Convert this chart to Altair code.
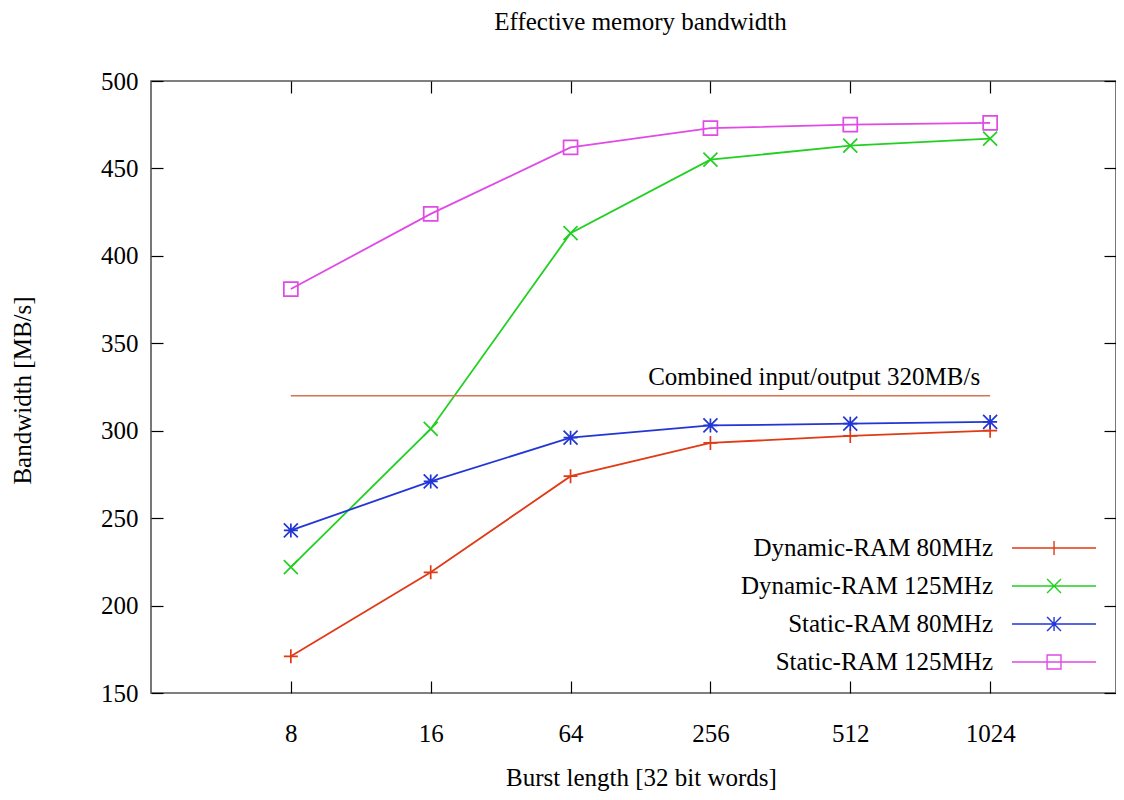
import json
import altair as alt
import pandas as pd

# ---------------- data ----------------
bursts = ["8", "16", "64", "256", "512", "1024"]
series_names = ["Dynamic-RAM 80MHz", "Dynamic-RAM 125MHz", "Static-RAM 80MHz", "Static-RAM 125MHz"]
dram_80 = [171, 219, 274, 293, 297, 300]
dram_125 = [222, 301, 413, 455, 463, 467]
sram_80 = [243, 271, 296, 303, 304, 305]
sram_125 = [381, 424, 462, 473, 475, 476]
ref_value = 320
ref_label = "Combined input/output 320MB/s"
y_ticks = [150, 200, 250, 300, 350, 400, 450, 500]

title_text = "Effective memory bandwidth"
x_title = "Burst length [32 bit words]"
y_title = "Bandwidth [MB/s]"

# ---------------- styles ----------------
FONT = "Liberation Serif"
FS = 25
W, H = 965, 612
colors = ["#e03a16", "#22d022", "#2236d6", "#e04ae6"]
REF_COLOR = "#d9704f"
marker_paths = [
    "M-1,0L1,0M0,-1L0,1",
    "M-1,-1L1,1M-1,1L1,-1",
    "M-1,0L1,0M0,-1L0,1M-1,-1L1,1M-1,1L1,-1",
    "M-1,-1L1,-1L1,1L-1,1Z",
]


def legend_path(kind, cx=6.17, half=3.5, m=0.58):
    a, b = round(cx - half, 3), round(cx + half, 3)
    l, r = round(cx - m, 3), round(cx + m, 3)
    line = f"M{a},0L{b},0"
    if kind == "plus":
        return line + f"M{cx},-{m}L{cx},{m}"
    if kind == "x":
        return line + f"M{l},-{m}L{r},{m}M{l},{m}L{r},-{m}"
    if kind == "star":
        return line + f"M{cx},-{m}L{cx},{m}M{l},-{m}L{r},{m}M{l},{m}L{r},-{m}"
    return line + f"M{l},-{m}L{r},-{m}L{r},{m}L{l},{m}Z"


legend_paths = [legend_path(k) for k in ["plus", "x", "star", "square"]]

rows = []
for name, vals in zip(series_names, [dram_80, dram_125, sram_80, sram_125]):
    for i, (b, v) in enumerate(zip(bursts, vals)):
        rows.append({"series": name, "pos": i + 1, "burst": b, "bandwidth": v})
df = pd.DataFrame(rows)
ref_df = pd.DataFrame([{"pos_start": 1, "pos_end": len(bursts), "value": ref_value, "label": ref_label}])

positions = list(range(1, len(bursts) + 1))
label_expr = json.dumps(bursts) + "[datum.value - 1]"

xscale = alt.Scale(domain=[0, 6.9], nice=False, zero=False)
yscale = alt.Scale(domain=[150, 500], nice=False, zero=False)


def cscale():
    return alt.Scale(domain=series_names, range=colors)


tick_style = dict(labels=False, domain=False, grid=False, ticks=True, tickSize=12,
                  tickColor="black", tickWidth=1.2, title=None, minExtent=0, maxExtent=0)

x_main = alt.Axis(orient="bottom", values=positions, labelExpr=label_expr, ticks=False, tickSize=0,
                  domain=False, grid=False, labelPadding=28, labelFont=FONT, labelFontSize=FS,
                  labelColor="black", title=x_title, titleFont=FONT, titleFontSize=FS,
                  titleFontWeight="normal", titleColor="black", titleX=490, titleY=84,
                  titleBaseline="middle", titleAlign="center")
y_main = alt.Axis(orient="left", values=y_ticks, ticks=False, tickSize=0, domain=False, grid=False,
                  labelPadding=13, labelFont=FONT, labelFontSize=FS, labelColor="black",
                  title=y_title, titleFont=FONT, titleFontSize=FS, titleFontWeight="normal",
                  titleColor="black", titleX=-129, titleY=309, titleAngle=270,
                  titleBaseline="middle", titleAlign="center")
x_ticks_bottom = alt.Axis(orient="top", offset=-H, values=positions, **tick_style)
x_ticks_top = alt.Axis(orient="bottom", offset=-H, values=positions, **tick_style)
y_ticks_left = alt.Axis(orient="right", offset=-W, values=y_ticks, **tick_style)
y_ticks_right = alt.Axis(orient="left", offset=-W, values=y_ticks, **tick_style)

lines = alt.Chart(df).mark_line(strokeWidth=1.8).encode(
    x=alt.X("pos:Q", scale=xscale, axis=x_main),
    y=alt.Y("bandwidth:Q", scale=yscale, axis=y_main),
    color=alt.Color("series:N", scale=cscale(), legend=None),
)

points = alt.Chart(df).mark_point(filled=False, size=196, strokeWidth=1.7, opacity=1).encode(
    x=alt.X("pos:Q", scale=xscale, axis=x_ticks_bottom),
    y=alt.Y("bandwidth:Q", scale=yscale, axis=y_ticks_left),
    color=alt.Color("series:N", scale=cscale(), legend=None),
    shape=alt.Shape("series:N", scale=alt.Scale(domain=series_names, range=marker_paths), legend=None),
)

ref_rule = alt.Chart(ref_df).mark_rule(color=REF_COLOR, strokeWidth=1.3).encode(
    x=alt.X("pos_start:Q", scale=xscale, axis=x_ticks_top),
    x2="pos_end:Q",
    y=alt.Y("value:Q", scale=yscale, axis=y_ticks_right),
)

ref_text = alt.Chart(ref_df).mark_text(align="right", baseline="alphabetic", dx=-10, dy=-11,
                                       font=FONT, fontSize=FS, color="black").encode(
    x=alt.X("pos_end:Q", scale=xscale, axis=None),
    y=alt.Y("value:Q", scale=yscale, axis=None),
    text="label:N",
)

leg = alt.Legend(orient="none", legendX=816, legendY=454, title=None, labelFont=FONT,
                 labelFontSize=FS, labelColor="black", labelAlign="right", labelOffset=0,
                 symbolOffset=0, labelLimit=500, symbolSize=576, symbolStrokeWidth=1.4,
                 rowPadding=12, padding=0)

legend_layer = alt.Chart(df).transform_filter("false").mark_point(filled=False, opacity=1).encode(
    x=alt.X("pos:Q", scale=xscale, axis=None),
    y=alt.Y("bandwidth:Q", scale=yscale, axis=None),
    color=alt.Color("series:N", scale=cscale(), legend=leg),
    shape=alt.Shape("series:N", scale=alt.Scale(domain=series_names, range=legend_paths), legend=leg),
)

chart = alt.layer(lines, points, ref_rule, ref_text, legend_layer).resolve_scale(
    color="independent", shape="independent"
).resolve_axis(x="independent", y="independent").properties(
    width=W, height=H,
    autosize=alt.AutoSizeParams(type="none"),
    padding={"left": 143, "top": 73, "right": 0, "bottom": 99},
    background="white",
    title=alt.TitleParams(title_text, font=FONT, fontSize=FS, fontWeight="normal", color="black",
                          anchor="middle", frame="group", offset=34, dx=7),
).configure_view(stroke="#555555", strokeWidth=1.6)

chart.save("out.html", embed_options={"renderer": "svg", "actions": False})
